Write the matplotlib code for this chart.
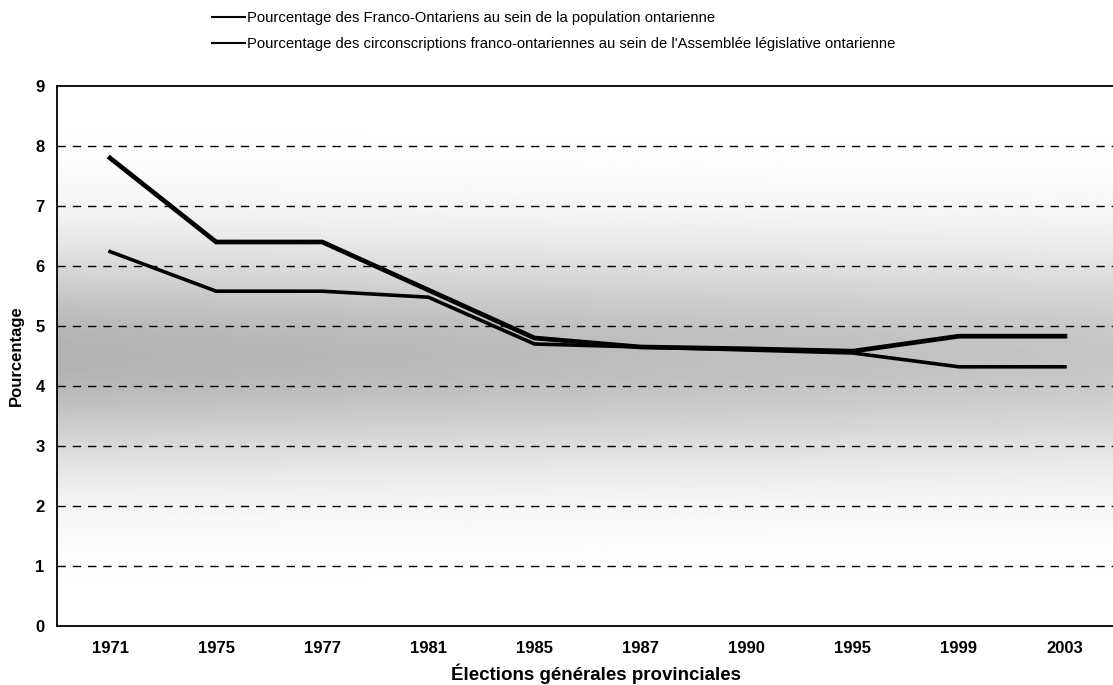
import numpy as np
import matplotlib
matplotlib.use("Agg")
import matplotlib.pyplot as plt
from matplotlib.lines import Line2D

plt.rcParams["font.family"] = ["Liberation Sans", "DejaVu Sans"]

elections = ["1971", "1975", "1977", "1981", "1985", "1987", "1990", "1995", "1999", "2003"]
pop_pct = [6.24, 5.58, 5.58, 5.48, 4.70, 4.65, 4.60, 4.55, 4.32, 4.32]
circ_pct = [7.80, 6.40, 6.40, 5.60, 4.80, 4.65, 4.62, 4.58, 4.83, 4.83]
labels = [
    "Pourcentage des Franco-Ontariens au sein de la population ontarienne",
    "Pourcentage des circonscriptions franco-ontariennes au sein de l'Assemblée législative ontarienne",
]

fig = plt.figure(figsize=(11.13, 6.85), dpi=100)
ax = fig.add_axes([57 / 1113, 59 / 685, 1061 / 1113, 540 / 685])

x = np.arange(len(elections))
xlim = (-0.5, 9.5)

# grey shaded background (darker around 4-5 %)
yy = np.linspace(0, 9, 300)
xx = np.linspace(xlim[0], xlim[1], 200)
shade = 0.30 * np.exp(-((yy - 4.5) / 1.8) ** 2)
hor = 1.0 - 0.25 * (xx - xlim[0]) / (xlim[1] - xlim[0])
bg = 1.0 - np.outer(shade, hor)
ax.imshow(bg, extent=(xlim[0], xlim[1], 0, 9), origin="lower", aspect="auto",
          cmap="gray", vmin=0, vmax=1, zorder=0, interpolation="bilinear")

for v in range(1, 9):
    ax.axhline(v, color="black", lw=1.0, ls=(0, (6, 5)), zorder=1)

ax.plot(x, pop_pct, color="black", lw=2.6, zorder=3, solid_joinstyle="miter")
ax.plot(x, circ_pct, color="black", lw=3.4, zorder=3, solid_joinstyle="miter")

ax.set_xlim(*xlim)
ax.set_ylim(0, 9)
ax.set_yticks(range(0, 10))
ax.set_xticks(x)
ax.set_xticklabels(elections)
ax.tick_params(length=0, labelsize=12)
ax.tick_params(axis="x", pad=11)
ax.tick_params(axis="y", pad=9)
for t in ax.get_xticklabels() + ax.get_yticklabels():
    t.set_fontweight("bold")
for s in ax.spines.values():
    s.set_linewidth(1.3)

ax.set_ylabel("Pourcentage", fontweight="bold", fontsize=12, labelpad=8)
ax.set_xlabel("Élections générales provinciales", fontweight="bold", fontsize=13.5)
ax.xaxis.set_label_coords(0.508, -0.07)

handles = [Line2D([], [], color="black", lw=1.5), Line2D([], [], color="black", lw=1.5)]
fig.legend(handles, labels, loc="upper left", bbox_to_anchor=(212 / 1113, 1 - 11 / 685),
           frameon=False, fontsize=10.7, handlelength=2.2, handletextpad=0.15,
           labelspacing=0.8, borderpad=0, borderaxespad=0)

fig.savefig("out.png", dpi=100)
